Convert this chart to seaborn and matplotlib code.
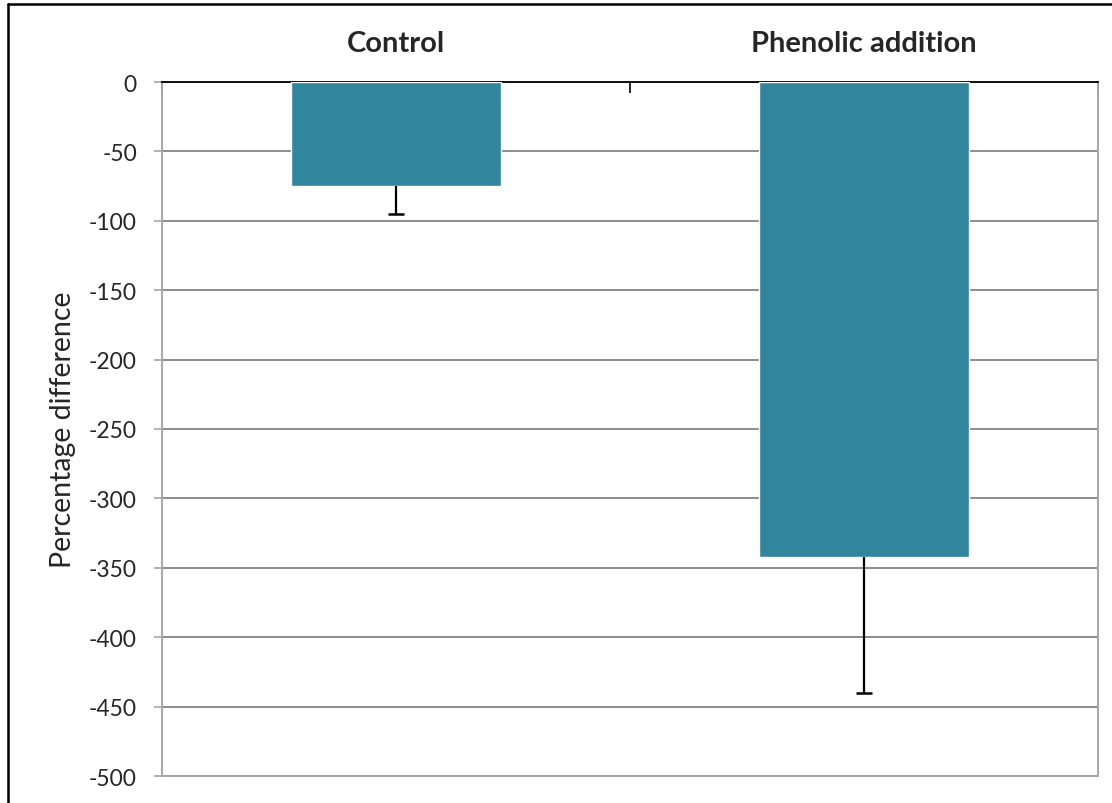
import numpy as np
import pandas as pd
import seaborn as sns
import matplotlib.pyplot as plt
from matplotlib.lines import Line2D

# data
groups = ["Control", "Phenolic addition"]
pct_diff = [-75, -342]
err_lower = [20, 98]
y_ticks = [0, -50, -100, -150, -200, -250, -300, -350, -400, -450, -500]

df = pd.DataFrame({"group": groups, "value": pct_diff})
df["err"] = err_lower

sns.set_style("white")
plt.rcParams["font.family"] = ["Lato", "DejaVu Sans"]

fig = plt.figure(figsize=(11.12, 8.04), dpi=100)
ax = fig.add_axes([162 / 1112, 1 - 777 / 804, 936 / 1112, 694 / 804])

sns.barplot(data=df, x="group", y="value", color="#31859C", width=0.45,
            saturation=1, errorbar=None, ax=ax, zorder=3)

# Excel style: only the minus error bar
xpos = np.arange(len(groups))
low = df["value"] - df["err"]
ax.vlines(xpos, df["value"], low, color="black", lw=1.6, zorder=4)
ax.hlines(low, xpos - 0.018, xpos + 0.018, color="black", lw=1.8, zorder=4)

ax.set_ylim(-500, 0)
ax.set_xlim(-0.5, 1.5)
ax.set_yticks(y_ticks)
ax.set_yticklabels([str(t) for t in y_ticks], fontsize=16.5)
ax.yaxis.grid(True, color="#8c8c8c", linewidth=1.4, zorder=0)
ax.set_axisbelow(True)

ax.xaxis.tick_top()
ax.set_xlabel("")
ax.set_xticks([0, 1])
ax.set_xticklabels(groups, fontsize=21, fontweight="bold")
ax.tick_params(axis="x", which="major", length=0, pad=19)
ax.set_xticks([-0.5, 0.5, 1.5], minor=True)
ax.tick_params(axis="x", which="minor", direction="in", length=8, width=1.2, color="black", top=True)
ax.tick_params(axis="y", length=6, width=1.2, color="#a6a6a6", left=True, pad=12)
ax.set_ylabel("Percentage difference", fontsize=20.5, labelpad=9)

for side in ["left", "right", "bottom"]:
    ax.spines[side].set_color("#a6a6a6")
    ax.spines[side].set_linewidth(1.4)
ax.spines["top"].set_color("black")
ax.spines["top"].set_linewidth(1.3)

# outer chart frame (cropped on right and bottom)
fig.add_artist(Line2D([8 / 1112, 8 / 1112], [0, 1 - 5 / 804], color="black", lw=1.8))
fig.add_artist(Line2D([8 / 1112, 1], [1 - 5 / 804, 1 - 5 / 804], color="black", lw=1.8))

fig.savefig("out.png", dpi=100)
